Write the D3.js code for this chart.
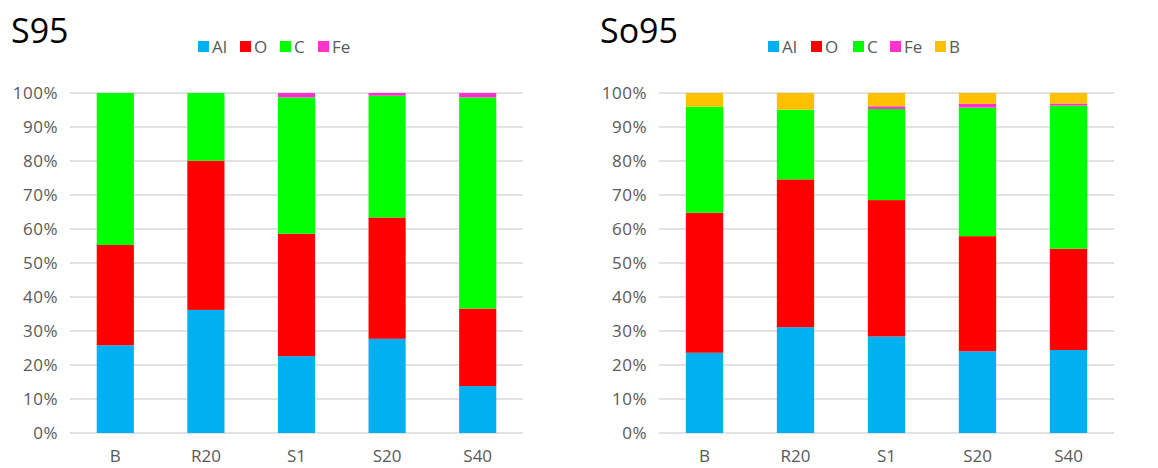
<!DOCTYPE html>
<html>
<head>
<meta charset="utf-8">
<script src="https://cdn.jsdelivr.net/npm/d3@7"></script>
<style>
  body { margin: 0; background: #fff; }
  svg { display: block; }
</style>
</head>
<body>
<script>
// categories and tick labels
var categories = ['B', 'R20', 'S1', 'S20', 'S40'];
var yTicks = [0, 10, 20, 30, 40, 50, 60, 70, 80, 90, 100];

// S95 values (%)
var s95Al = [25.8, 36.2, 22.6, 27.7, 13.8];
var s95O  = [29.5, 43.9, 36.0, 35.7, 22.8];
var s95C  = [44.7, 19.9, 40.1, 35.8, 62.1];
var s95Fe = [0, 0, 1.3, 0.8, 1.3];

// So95 values (%)
var so95Al = [23.6, 31.1, 28.4, 24.0, 24.4];
var so95O  = [41.2, 43.5, 40.1, 33.9, 29.8];
var so95C  = [31.2, 20.5, 26.8, 37.8, 42.1];
var so95Fe = [0, 0, 0.8, 1.1, 0.6];
var so95B  = [4.0, 4.9, 3.9, 3.2, 3.1];

var colors = { Al: '#00B0F0', O: '#FF0000', C: '#00FF00', Fe: '#FF33CC', B: '#FFC000' };

var W = 1158, H = 468;
var svg = d3.select('body').append('svg').attr('width', W).attr('height', H);

function drawChart(opt) {
	var g = svg.append('g');
	var keys = opt.series.map(function(s) { return s.name; });

	// build rows for the stack
	var rows = categories.map(function(c, i) {
		var r = { cat: c };
		opt.series.forEach(function(s) { r[s.name] = s.values[i]; });
		return r;
	});
	var stacked = d3.stack().keys(keys)(rows);

	var x = d3.scaleBand().domain(categories)
		.range([opt.x0, opt.x1]).paddingInner(0.59).paddingOuter(0.295);
	var y = d3.scaleLinear().domain([0, 100]).range([433, 93]);

	// gridlines
	g.selectAll('line.grid').data(yTicks).enter().append('line')
		.attr('x1', opt.x0).attr('x2', opt.x1)
		.attr('y1', function(d) { return y(d); })
		.attr('y2', function(d) { return y(d); })
		.attr('stroke', '#d9d9d9').attr('stroke-width', 1.5);

	// y tick labels
	var yAxis = d3.axisLeft(y).tickValues(yTicks).tickSize(0).tickPadding(0)
		.tickFormat(function(d) { return d + '%'; });
	var ya = g.append('g').attr('transform', 'translate(' + opt.labelX + ',0)').call(yAxis);
	ya.select('.domain').remove();
	ya.selectAll('text').attr('fill', '#595959')
		.style('font-family', 'Open Sans, sans-serif').style('font-size', '17px')
		.style('letter-spacing', '0.5px');

	// bars
	g.selectAll('g.layer').data(stacked).enter().append('g')
		.attr('fill', function(d) { return colors[d.key]; })
		.selectAll('rect').data(function(d) { return d; }).enter().append('rect')
		.attr('x', function(d) { return x(d.data.cat); })
		.attr('width', x.bandwidth())
		.attr('y', function(d) { return y(d[1]); })
		.attr('height', function(d) { return y(d[0]) - y(d[1]); });

	// x labels
	var xAxis = d3.axisBottom(x).tickSize(0).tickPadding(0);
	var xa = g.append('g').attr('transform', 'translate(0,450)').call(xAxis);
	xa.select('.domain').remove();
	xa.selectAll('text').attr('fill', '#595959').attr('dy', '0.71em')
		.style('font-family', 'Open Sans, sans-serif').style('font-size', '17px');

	// title
	g.append('text').attr('x', opt.titleX).attr('y', 43)
		.text(opt.title).attr('fill', '#000')
		.style('font-family', 'Open Sans, sans-serif').style('font-size', '34px');

	// legend
	var lg = g.selectAll('g.leg').data(opt.series).enter().append('g')
		.attr('transform', function(d, i) { return 'translate(' + opt.legendX[i] + ',41)'; });
	lg.append('rect').attr('width', 11).attr('height', 11)
		.attr('fill', function(d) { return colors[d.name]; });
	lg.append('text').attr('x', 14).attr('y', 12)
		.text(function(d) { return d.name; }).attr('fill', '#595959')
		.style('font-family', 'Open Sans, sans-serif').style('font-size', '17px');
}

drawChart({
	title: 'S95', titleX: 11, x0: 70, x1: 523, labelX: 58,
	legendX: [198, 240, 280, 318],
	series: [
		{ name: 'Al', values: s95Al },
		{ name: 'O', values: s95O },
		{ name: 'C', values: s95C },
		{ name: 'Fe', values: s95Fe }
	]
});

drawChart({
	title: 'So95', titleX: 600, x0: 659, x1: 1114, labelX: 647,
	legendX: [768, 811, 853, 890, 935],
	series: [
		{ name: 'Al', values: so95Al },
		{ name: 'O', values: so95O },
		{ name: 'C', values: so95C },
		{ name: 'Fe', values: so95Fe },
		{ name: 'B', values: so95B }
	]
});
</script>
</body>
</html>
